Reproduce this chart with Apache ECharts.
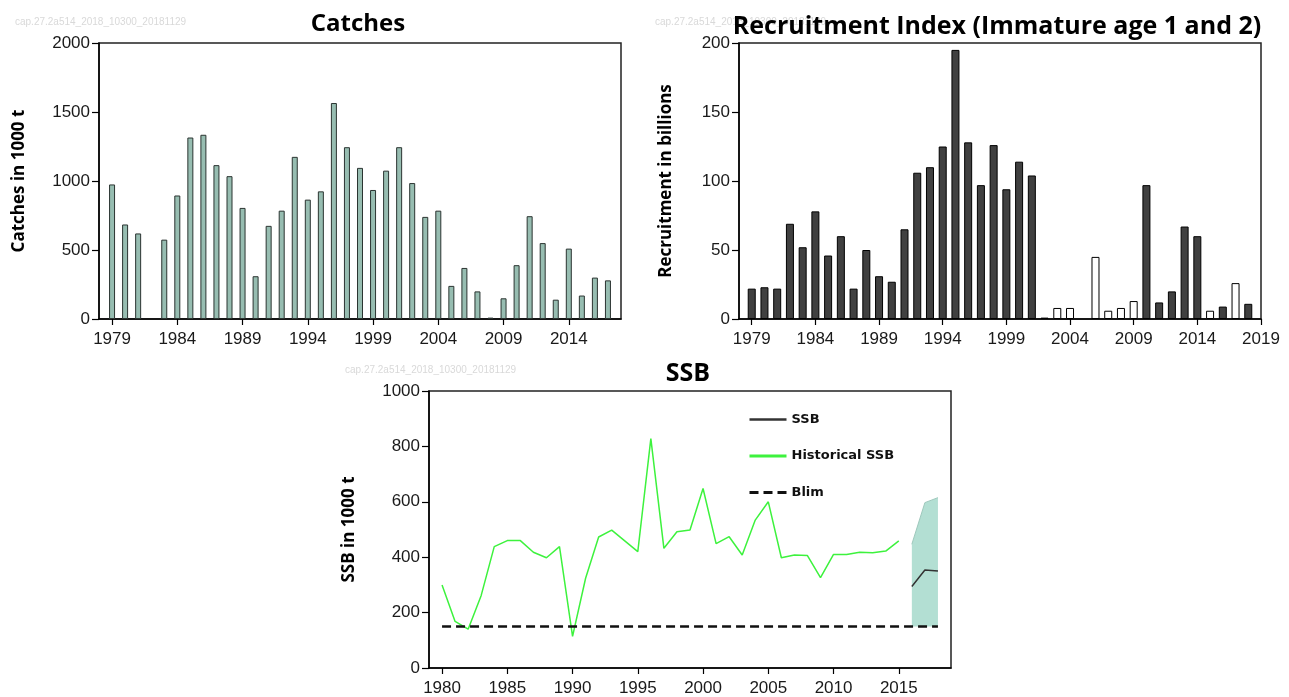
<!DOCTYPE html>
<html>
<head>
<meta charset="utf-8">
<title>Catches, Recruitment, SSB</title>
<script src="https://cdn.jsdelivr.net/npm/echarts@6/dist/echarts.min.js"></script>
<style>
	html, body { margin: 0; padding: 0; background: #fff; }
	#main { width: 1289px; height: 697px; }
</style>
</head>
<body>
<div id="main"></div>
<script>
// 渔获量 1979-2017 (1000 t), 1982 无数据
var catchFirstYear = 1979;
var catchValues = [975, 685, 620, null, 575, 895, 1315, 1335, 1115, 1035, 805, 310, 675, 785, 1175, 865, 925, 1565,
	1245, 1095, 935, 1075, 1245, 985, 740, 785, 240, 370, 200, 10, 150, 390, 745, 550, 140, 510, 170, 300, 280];

// 补充量指数 1979-2018 (billions), 2005 无数据
var recFirstYear = 1979;
var recValues = [22, 23, 22, 69, 52, 78, 46, 60, 22, 50, 31, 27, 65, 106, 110, 125, 195, 128,
	97, 126, 94, 114, 104, 1, 8, 8, null, 45, 6, 8, 13, 97, 12, 20, 67, 60, 6, 9, 26, 11];
// 白色柱的年份
var recOpenYears = [2003, 2004, 2006, 2007, 2008, 2009, 2015, 2017];

// 历史SSB 1980-2015
var histFirstYear = 1980;
var histSSB = [300, 168, 140, 262, 438, 460, 460, 418, 398, 438, 114, 324, 473, 498, 459, 420, 828, 432,
	492, 498, 648, 449, 474, 408, 534, 600, 398, 408, 406, 326, 410, 410, 418, 416, 422, 459];

// SSB 2016-2018 及区间
var ssbYears = [2016, 2017, 2018];
var ssbValues = [294, 354, 350];
var ssbLow = [150, 150, 150];
var ssbHigh = [447, 597, 615];

// Blim
var blim = 150;
var blimYears = [1980, 2018];

var watermark = 'cap.27.2a514_2018_10300_20181129';

function yearRange(a, b) {
	var arr = [];
	for(var y = a; y <= b; y++) {
		arr.push(String(y));
	}
	return arr;
}

function pairs(first, values) {
	var arr = [];
	for(var i = 0; i < values.length; i++) {
		arr.push([String(first + i), values[i]]);
	}
	return arr;
}

var tickFont = { fontFamily: 'Liberation Sans', fontSize: 17, color: '#1a1a1a' };
var nameFont = { fontFamily: 'Open Sans', fontWeight: 'bold', fontSize: 17, color: '#000' };
function titleFont(size) {
	return { fontFamily: 'Open Sans', fontWeight: 'bold', fontSize: size, color: '#000' };
}

function xAxisOf(gridIndex, cats, first, last) {
	var show = function(index, value) {
		var y = parseInt(value, 10);
		return (y - first) % 5 === 0 && y <= last;
	};
	return {
		type: 'category',
		gridIndex: gridIndex,
		data: cats,
		boundaryGap: false,
		axisLine: { lineStyle: { color: '#000', width: 1.5 } },
		axisTick: { interval: show, length: 6, lineStyle: { color: '#000', width: 1.2 } },
		axisLabel: Object.assign({ interval: show, margin: 12 }, tickFont),
		splitLine: { show: false }
	};
}

function yAxisOf(gridIndex, max, interval, name, gap) {
	return {
		type: 'value',
		gridIndex: gridIndex,
		min: 0,
		max: max,
		interval: interval,
		name: name,
		nameLocation: 'middle',
		nameGap: gap,
		nameTextStyle: nameFont,
		axisLine: { show: true, lineStyle: { color: '#000', width: 1.5 } },
		axisTick: { show: true, length: 7, lineStyle: { color: '#000', width: 1.2 } },
		axisLabel: Object.assign({ margin: 9, formatter: function(v) { return String(v); } }, tickFont),
		splitLine: { show: false }
	};
}

var chart = echarts.init(document.getElementById('main'));

var recData = [];
for(var i = 0; i < recValues.length; i++) {
	var yr = recFirstYear + i;
	var open = recOpenYears.indexOf(yr) >= 0;
	recData.push({
		value: [String(yr), recValues[i]],
		itemStyle: { color: open ? '#ffffff' : '#404040', borderColor: '#000', borderWidth: 1 }
	});
}

var bandBase = [], bandSpan = [], ssbLine = [];
for(var j = 0; j < ssbYears.length; j++) {
	bandBase.push([String(ssbYears[j]), ssbLow[j]]);
	bandSpan.push([String(ssbYears[j]), ssbHigh[j] - ssbLow[j]]);
	ssbLine.push([String(ssbYears[j]), ssbValues[j]]);
}

var option = {
	backgroundColor: '#fff',
	animation: false,
	title: [
		{ text: 'Catches', left: 358, top: 12, textAlign: 'center', padding: 0, textStyle: titleFont(24) },
		{ text: 'Recruitment Index (Immature age 1 and 2)', left: 997, top: 14, textAlign: 'center', padding: 0, textStyle: titleFont(25) },
		{ text: 'SSB', left: 688, top: 361, textAlign: 'center', padding: 0, textStyle: titleFont(25) }
	],
	graphic: [
		{ type: 'text', left: 15, top: 17, z: 0, style: { text: watermark, fill: '#d9d9d9', font: '10px "Liberation Sans"' } },
		{ type: 'text', left: 655, top: 17, z: 0, style: { text: watermark, fill: '#d9d9d9', font: '10px "Liberation Sans"' } },
		{ type: 'text', left: 345, top: 365, z: 0, style: { text: watermark, fill: '#d9d9d9', font: '10px "Liberation Sans"' } }
	],
	legend: {
		data: [
			{ name: 'SSB', lineStyle: { width: 2.5 } },
			{ name: 'Historical SSB', lineStyle: { width: 3 } },
			{ name: 'Blim', lineStyle: { width: 3 } }
		],
		orient: 'vertical',
		left: 743,
		top: 408,
		itemWidth: 37,
		itemHeight: 14,
		itemGap: 23.5,
		selectedMode: false,
		itemStyle: { opacity: 0 },
		textStyle: { fontFamily: 'DejaVu Sans', fontWeight: 'bold', fontSize: 13, color: '#111' }
	},
	grid: [
		{ left: 99, top: 43, width: 522, height: 276, show: true, borderColor: '#222', borderWidth: 1.5 },
		{ left: 739, top: 43, width: 522, height: 276, show: true, borderColor: '#222', borderWidth: 1.5 },
		{ left: 429, top: 391, width: 522, height: 277, show: true, borderColor: '#222', borderWidth: 1.5 }
	],
	xAxis: [
		xAxisOf(0, yearRange(1978, 2018), 1979, 2014),
		xAxisOf(1, yearRange(1978, 2019), 1979, 2019),
		xAxisOf(2, yearRange(1979, 2019), 1980, 2015)
	],
	yAxis: [
		yAxisOf(0, 2000, 500, 'Catches in 1000 t', 71),
		yAxisOf(1, 200, 50, 'Recruitment in billions', 64),
		yAxisOf(2, 1000, 200, 'SSB in 1000 t', 71)
	],
	series: [{
		name: 'Catches',
		type: 'bar',
		xAxisIndex: 0,
		yAxisIndex: 0,
		barWidth: 6,
		data: pairs(catchFirstYear, catchValues),
		itemStyle: { color: '#97bdb1', borderColor: '#2b3431', borderWidth: 1 }
	}, {
		name: 'Recruitment',
		type: 'bar',
		xAxisIndex: 1,
		yAxisIndex: 1,
		barWidth: 8,
		data: recData
	}, {
		name: 'band-low',
		type: 'line',
		xAxisIndex: 2,
		yAxisIndex: 2,
		stack: 'band',
		symbol: 'none',
		lineStyle: { opacity: 0 },
		data: bandBase,
		z: 1
	}, {
		name: 'band',
		type: 'line',
		xAxisIndex: 2,
		yAxisIndex: 2,
		stack: 'band',
		symbol: 'none',
		lineStyle: { color: '#9ec8bc', width: 1 },
		areaStyle: { color: '#b3dfd3', opacity: 1 },
		data: bandSpan,
		z: 1
	}, {
		name: 'SSB',
		type: 'line',
		xAxisIndex: 2,
		yAxisIndex: 2,
		symbol: 'none',
		lineStyle: { color: '#333', width: 1.5 },
		itemStyle: { color: '#000' },
		data: ssbLine,
		z: 3
	}, {
		name: 'Historical SSB',
		type: 'line',
		xAxisIndex: 2,
		yAxisIndex: 2,
		symbol: 'none',
		lineStyle: { color: '#3df23d', width: 1.5 },
		itemStyle: { color: '#3df23d' },
		data: pairs(histFirstYear, histSSB),
		z: 3
	}, {
		name: 'Blim',
		type: 'line',
		xAxisIndex: 2,
		yAxisIndex: 2,
		symbol: 'none',
		lineStyle: { color: '#111', width: 2.5, type: [9, 5] },
		itemStyle: { color: '#111' },
		data: [[String(blimYears[0]), blim], [String(blimYears[1]), blim]],
		z: 4
	}]
};

chart.setOption(option);
</script>
</body>
</html>
